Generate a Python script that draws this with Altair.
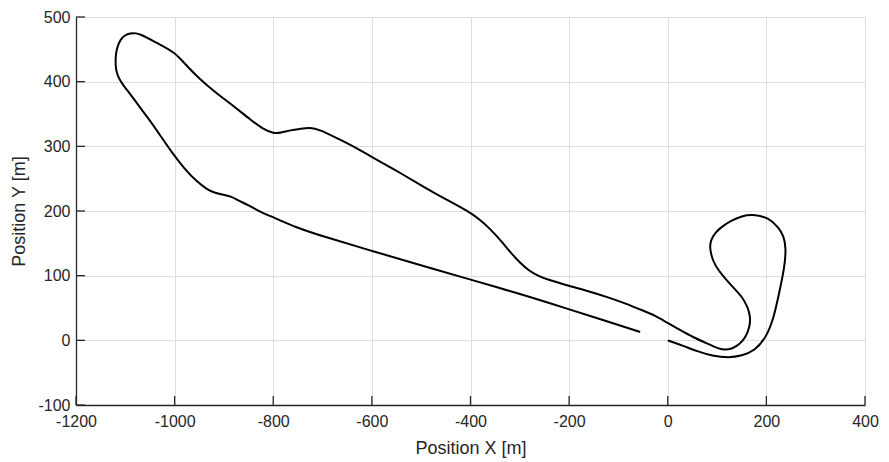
import altair as alt
import pandas as pd

track_x = [0, 30, 60, 90, 124, 150, 177, 200, 215, 225, 237, 240, 235, 225, 205, 171, 150, 131, 110, 97, 87, 85, 91, 103, 117, 135, 151, 162, 168, 166, 158, 146, 131, 115, 104, 80, 51, 25, -3, -25, -50, -85, -123, -160, -204, -240, -264, -282, -297, -318, -338, -360, -378, -405, -450, -492, -540, -592, -630, -672, -706, -726, -745, -765, -785, -799, -819, -846, -880, -920, -950, -974, -1000, -1034, -1068, -1078, -1090, -1101, -1110, -1115, -1119, -1120, -1119, -1115, -1105, -1094, -1075, -1054, -1030, -1007, -980, -953, -935, -920, -900, -887, -870, -853, -825, -799, -752, -700, -599, -500, -405, -300, -204, -130, -56]
track_y = [0, -8, -17, -24, -27, -24, -16, 5, 35, 70, 113, 143, 162, 174, 190, 195, 192, 186, 176, 167, 155, 143, 123, 108, 95, 80, 67, 52, 36, 20, 5, -6, -13, -15, -13, -5, 5, 16, 28, 38, 46, 57, 67, 76, 85, 93, 100, 108, 118, 135, 154, 172, 185, 200, 218, 236, 258, 280, 297, 313, 326, 329, 327, 325, 321, 320, 326, 341, 362, 385, 405, 423, 446, 459, 473, 475, 475, 472, 465, 456, 445, 431, 418, 408, 395, 385, 365, 344, 318, 292, 265, 244, 234, 228, 225, 223, 216, 210, 198, 190, 174, 161, 138, 116, 95, 72, 49, 31, 13]

x_ticks = [-1200, -1000, -800, -600, -400, -200, 0, 200, 400]
y_ticks = [-100, 0, 100, 200, 300, 400, 500]

df = pd.DataFrame({"x": track_x, "y": track_y, "i": list(range(len(track_x)))})
xt = pd.DataFrame({"v": x_ticks})
yt = pd.DataFrame({"v": y_ticks})

FONT = "Liberation Sans"
AX = "#262626"
W, H = 789, 388

xscale = alt.Scale(domain=[-1200, 400], nice=False, zero=False)
yscale = alt.Scale(domain=[-100, 500], nice=False, zero=False)

xaxis = alt.Axis(values=x_ticks, title="Position X [m]", grid=True, gridColor="#dedede",
                 domainColor=AX, domainWidth=1.3, tickSize=0, labelFontSize=16,
                 labelColor=AX, labelFont=FONT, labelPadding=8, titleFont=FONT,
                 titleFontSize=18, titleFontWeight="normal", titleColor=AX,
                 titleY=43, titleBaseline="middle", labelFlush=False,
                 labelExpr="datum.value + ''")
yaxis = alt.Axis(values=y_ticks, title="Position Y [m]", grid=True, gridColor="#dedede",
                 domainColor=AX, domainWidth=1.3, tickSize=0, labelFontSize=16,
                 labelColor=AX, labelFont=FONT, labelPadding=6, titleFont=FONT,
                 titleFontSize=18, titleFontWeight="normal", titleColor=AX,
                 titleX=-57, titleY=H / 2, titleAngle=-90, titleBaseline="middle",
                 titleAlign="center", labelFlush=False,
                 labelExpr="datum.value + ''")

line = alt.Chart(df).mark_line(color="black", strokeWidth=2, interpolate="basis").encode(
    x=alt.X("x:Q", scale=xscale, axis=xaxis),
    y=alt.Y("y:Q", scale=yscale, axis=yaxis),
    order="i:Q",
)

xtick_marks = alt.Chart(xt).mark_rule(color=AX, strokeWidth=1.3).encode(
    x=alt.X("v:Q", scale=xscale, axis=xaxis),
    y=alt.value(H),
    y2=alt.value(H - 9),
)
ytick_marks = alt.Chart(yt).mark_rule(color=AX, strokeWidth=1.3).encode(
    y=alt.Y("v:Q", scale=yscale, axis=yaxis),
    x=alt.value(0),
    x2=alt.value(9),
)

chart = alt.layer(line, xtick_marks, ytick_marks).properties(
    width=W, height=H,
    autosize=alt.AutoSizeParams(type="none"),
    padding={"left": 68, "top": 9, "right": 16, "bottom": 55},
).configure_view(stroke=None).configure(background="white")

chart.save("out.html", embed_options={"renderer": "svg", "actions": False})
